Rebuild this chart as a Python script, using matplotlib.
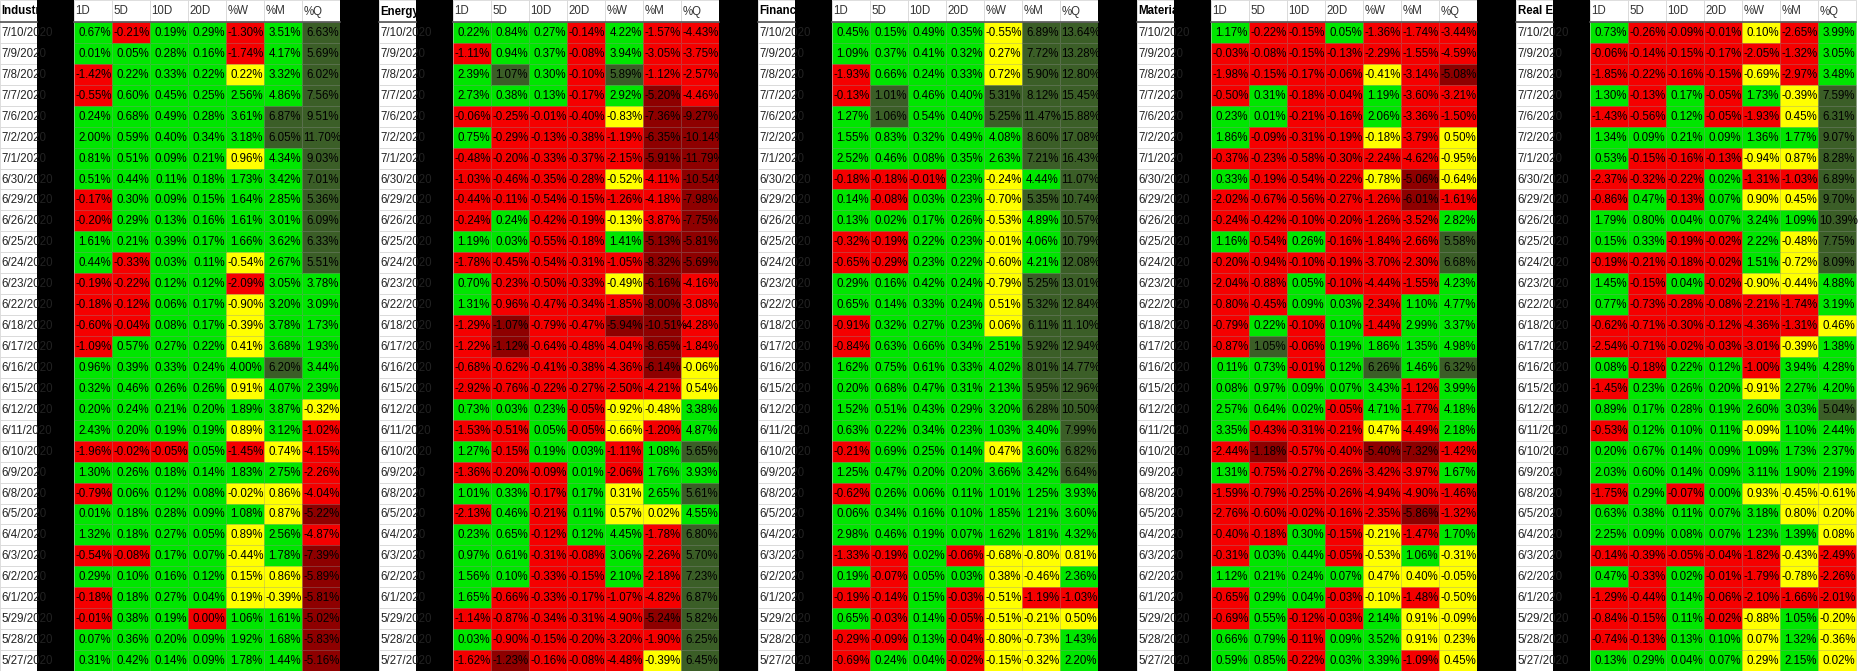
import matplotlib
matplotlib.use("Agg")
import matplotlib.pyplot as plt
from matplotlib.patches import Rectangle

dates = ["7/10/2020","7/9/2020","7/8/2020","7/7/2020","7/6/2020","7/2/2020","7/1/2020","6/30/2020",
         "6/29/2020","6/26/2020","6/25/2020","6/24/2020","6/23/2020","6/22/2020","6/18/2020","6/17/2020",
         "6/16/2020","6/15/2020","6/12/2020","6/11/2020","6/10/2020","6/9/2020","6/8/2020","6/5/2020",
         "6/4/2020","6/3/2020","6/2/2020","6/1/2020","5/29/2020","5/28/2020","5/27/2020"]
columns = ["1D", "5D", "10D", "20D", "%W", "%M", "%Q"]
sectors = ["Industrials", "Energy", "Financials", "Materials", "Real Estate"]

ind_1d = [0.67,0.01,-1.42,-0.55,0.24,2.00,0.81,0.51,-0.17,-0.20,1.61,0.44,-0.19,-0.18,-0.60,-1.09,0.96,0.32,0.20,2.43,-1.96,1.30,-0.79,0.01,1.32,-0.54,0.29,-0.18,-0.01,0.07,0.31]
ind_5d = [-0.21,0.05,0.22,0.60,0.68,0.59,0.51,0.44,0.30,0.29,0.21,-0.33,-0.22,-0.12,-0.04,0.57,0.39,0.46,0.24,0.20,-0.02,0.26,0.06,0.18,0.18,-0.08,0.10,0.18,0.38,0.36,0.42]
ind_10d = [0.19,0.28,0.33,0.45,0.49,0.40,0.09,0.11,0.09,0.13,0.39,0.03,0.12,0.06,0.08,0.27,0.33,0.26,0.21,0.19,-0.05,0.18,0.12,0.28,0.27,0.17,0.16,0.27,0.19,0.20,0.14]
ind_20d = [0.29,0.16,0.22,0.25,0.28,0.34,0.21,0.18,0.15,0.16,0.17,0.11,0.12,0.17,0.17,0.22,0.24,0.26,0.20,0.19,0.05,0.14,0.08,0.09,0.05,0.07,0.12,0.04,-0.001,0.09,0.09]
ind_w = [-1.30,-1.74,0.22,2.56,3.61,3.18,0.96,1.73,1.64,1.61,1.66,-0.54,-2.09,-0.90,-0.39,0.41,4.00,0.91,1.89,0.89,-1.45,1.83,-0.02,1.08,0.89,-0.44,0.15,0.19,1.06,1.92,1.78]
ind_m = [3.51,4.17,3.32,4.86,6.87,6.05,4.34,3.42,2.85,3.01,3.62,2.67,3.05,3.20,3.78,3.68,6.20,4.07,3.87,3.12,0.74,2.75,0.86,0.87,2.56,1.78,0.86,-0.39,1.61,1.68,1.44]
ind_q = [6.63,5.69,6.02,7.56,9.51,11.70,9.03,7.01,5.36,6.09,6.33,5.51,3.78,3.09,1.73,1.93,3.44,2.39,-0.32,-1.02,-4.15,-2.26,-4.04,-5.22,-4.87,-7.39,-5.89,-5.81,-5.02,-5.83,-5.16]

ene_1d = [0.22,-1.11,2.39,2.73,-0.06,0.75,-0.48,-1.03,-0.44,-0.24,1.19,-1.78,0.70,1.31,-1.29,-1.22,-0.68,-2.92,0.73,-1.53,1.27,-1.36,1.01,-2.13,0.23,0.97,1.56,1.65,-1.14,0.03,-1.62]
ene_5d = [0.84,0.94,1.07,0.38,-0.25,-0.29,-0.20,-0.46,-0.11,0.24,0.03,-0.45,-0.23,-0.96,-1.07,-1.12,-0.62,-0.76,0.03,-0.51,-0.15,-0.20,0.33,0.46,0.65,0.61,0.10,-0.66,-0.87,-0.90,-1.23]
ene_10d = [0.27,0.37,0.30,0.13,-0.01,-0.13,-0.33,-0.35,-0.54,-0.42,-0.55,-0.54,-0.50,-0.47,-0.79,-0.64,-0.41,-0.22,0.23,0.05,0.19,-0.09,-0.17,-0.21,-0.12,-0.31,-0.33,-0.33,-0.34,-0.15,-0.16]
ene_20d = [-0.14,-0.08,-0.10,-0.17,-0.40,-0.38,-0.37,-0.28,-0.15,-0.19,-0.18,-0.31,-0.33,-0.34,-0.47,-0.48,-0.38,-0.27,-0.05,-0.05,0.03,0.01,0.17,0.11,0.12,-0.08,-0.15,-0.17,-0.31,-0.20,-0.08]
ene_w = [4.22,3.94,5.89,2.92,-0.83,-1.19,-2.15,-0.52,-1.26,-0.13,1.41,-1.05,-0.49,-1.85,-5.94,-4.04,-4.36,-2.50,-0.92,-0.66,-1.11,-2.06,0.31,0.57,4.45,3.06,2.10,-1.07,-4.90,-3.20,-4.48]
ene_m = [-1.57,-3.05,-1.12,-5.20,-7.36,-6.35,-5.91,-4.11,-4.18,-3.87,-5.13,-8.32,-6.16,-8.00,-10.51,-8.65,-6.14,-4.21,-0.48,-1.20,1.08,1.76,2.65,0.02,-1.78,-2.26,-2.18,-4.82,-5.24,-1.90,-0.39]
ene_q = [-4.43,-3.75,-2.57,-4.46,-9.27,-10.14,-11.79,-10.54,-7.98,-7.75,-5.81,-5.69,-4.16,-3.08,-4.28,-1.84,-0.06,0.54,3.38,4.87,5.65,3.93,5.61,4.55,6.80,5.70,7.23,6.87,5.82,6.25,6.45]

fin_1d = [0.45,1.09,-1.93,-0.13,1.27,1.55,2.52,-0.18,0.14,0.13,-0.32,-0.65,0.29,0.65,-0.91,-0.84,1.62,0.20,1.52,0.63,-0.21,1.25,-0.62,0.06,2.98,-1.33,0.19,-0.19,0.65,-0.29,-0.69]
fin_5d = [0.15,0.37,0.66,1.01,1.06,0.83,0.46,-0.18,-0.08,0.02,-0.19,-0.29,0.16,0.14,0.32,0.63,0.75,0.68,0.51,0.22,0.69,0.47,0.26,0.34,0.46,-0.19,-0.07,-0.14,-0.03,-0.09,0.24]
fin_10d = [0.49,0.41,0.24,0.46,0.54,0.32,0.08,-0.01,0.03,0.17,0.22,0.23,0.42,0.33,0.27,0.66,0.61,0.47,0.43,0.34,0.25,0.20,0.06,0.16,0.19,0.02,0.05,0.15,0.14,0.13,0.04]
fin_20d = [0.35,0.32,0.33,0.40,0.40,0.49,0.35,0.23,0.23,0.26,0.23,0.22,0.24,0.24,0.23,0.34,0.33,0.31,0.29,0.23,0.14,0.20,0.11,0.10,0.07,-0.06,0.03,-0.03,-0.05,-0.04,-0.02]
fin_w = [-0.55,0.27,0.72,5.31,5.25,4.08,2.63,-0.24,-0.70,-0.53,-0.01,-0.60,-0.79,0.51,0.06,2.51,4.02,2.13,3.20,1.03,0.47,3.66,1.01,1.85,1.62,-0.68,0.38,-0.51,-0.51,-0.80,-0.15]
fin_m = [6.89,7.72,5.90,8.12,11.47,8.60,7.21,4.44,5.35,4.89,4.06,4.21,5.25,5.32,6.11,5.92,8.01,5.95,6.28,3.40,3.60,3.42,1.25,1.21,1.81,-0.80,-0.46,-1.19,-0.21,-0.73,-0.32]
fin_q = [13.64,13.28,12.80,15.45,15.88,17.08,16.43,11.07,10.74,10.57,10.79,12.08,13.01,12.84,11.10,12.94,14.77,12.96,10.50,7.99,6.82,6.64,3.93,3.60,4.32,0.81,2.36,-1.03,0.50,1.43,2.20]

mat_1d = [1.17,-0.03,-1.98,-0.50,0.23,1.86,-0.37,0.33,-2.02,-0.24,1.16,-0.20,-2.04,-0.80,-0.79,-0.87,0.11,0.08,2.57,3.35,-2.44,1.31,-1.59,-2.76,-0.40,-0.31,1.12,-0.65,-0.69,0.66,0.59]
mat_5d = [-0.22,-0.08,-0.15,0.31,0.01,-0.09,-0.23,-0.19,-0.67,-0.42,-0.54,-0.94,-0.88,-0.45,0.22,1.05,0.73,0.97,0.64,-0.43,-1.18,-0.75,-0.79,-0.60,-0.18,0.03,0.21,0.29,0.55,0.79,0.85]
mat_10d = [-0.15,-0.15,-0.17,-0.18,-0.21,-0.31,-0.58,-0.54,-0.56,-0.10,0.26,-0.10,0.05,0.09,-0.10,-0.06,-0.01,0.09,0.02,-0.31,-0.57,-0.27,-0.25,-0.02,0.30,0.44,0.24,0.04,-0.12,-0.11,-0.22]
mat_20d = [0.05,-0.13,-0.06,-0.04,-0.16,-0.19,-0.30,-0.22,-0.27,-0.20,-0.16,-0.19,-0.10,0.03,0.10,0.19,0.12,0.07,-0.05,-0.21,-0.40,-0.26,-0.26,-0.16,-0.15,-0.05,0.07,-0.03,-0.03,0.09,0.03]
mat_w = [-1.36,-2.29,-0.41,1.19,2.06,-0.18,-2.24,-0.78,-1.26,-1.26,-1.84,-3.70,-4.44,-2.34,-1.44,1.86,6.26,3.43,4.71,0.47,-5.40,-3.42,-4.94,-2.35,-0.21,-0.53,0.47,-0.10,2.14,3.52,3.39]
mat_m = [-1.74,-1.55,-3.14,-3.60,-3.36,-3.79,-4.62,-5.06,-6.01,-3.52,-2.66,-2.30,-1.55,1.10,2.99,1.35,1.46,-1.12,-1.77,-4.49,-7.32,-3.97,-4.90,-5.86,-1.47,1.06,0.40,-1.48,0.91,0.91,-1.09]
mat_q = [-3.44,-4.59,-5.08,-3.21,-1.50,0.50,-0.95,-0.64,-1.61,2.82,5.58,6.68,4.23,4.77,3.37,4.98,6.32,3.99,4.18,2.18,-1.42,1.67,-1.46,-1.32,1.70,-0.31,-0.05,-0.50,-0.09,0.23,0.45]

re_1d = [0.73,-0.06,-1.85,1.30,-1.43,1.34,0.53,-2.37,-0.86,1.79,0.15,-0.19,1.45,0.77,-0.62,-2.54,0.08,-1.45,0.89,-0.53,0.20,2.03,-1.75,0.63,2.25,-0.14,0.47,-1.29,-0.84,-0.74,0.13]
re_5d = [-0.26,-0.14,-0.22,-0.13,-0.56,0.09,-0.15,-0.32,0.47,0.80,0.33,-0.21,-0.15,-0.73,-0.71,-0.71,-0.18,0.23,0.17,0.12,0.67,0.60,0.29,0.38,0.09,-0.39,-0.33,-0.44,-0.15,-0.13,0.29]
re_10d = [-0.09,-0.15,-0.16,0.17,0.12,0.21,-0.16,-0.22,-0.13,0.04,-0.19,-0.18,0.04,-0.28,-0.30,-0.02,0.22,0.26,0.28,0.10,0.14,0.14,-0.07,0.11,0.08,-0.05,0.02,0.14,0.11,0.13,0.04]
re_20d = [-0.01,-0.17,-0.15,-0.05,-0.05,0.09,-0.13,0.02,0.07,0.07,-0.02,-0.02,-0.02,-0.08,-0.12,-0.03,0.12,0.20,0.19,0.11,0.09,0.09,0.00,0.07,0.07,-0.04,-0.01,-0.06,-0.02,0.10,0.07]
re_w = [0.10,-2.05,-0.69,1.73,-1.93,1.36,-0.94,-1.31,0.90,3.24,2.22,1.51,-0.90,-2.21,-4.36,-3.01,-1.00,-0.91,2.60,-0.09,1.09,3.11,0.93,3.18,1.23,-1.82,-1.79,-2.10,-0.88,0.07,0.29]
re_m = [-2.65,-1.32,-2.97,-0.39,0.45,1.77,0.87,-1.03,0.45,1.09,-0.48,-0.72,-0.44,-1.74,-1.31,-0.39,3.94,2.27,3.03,1.10,1.73,1.90,-0.45,0.80,1.39,-0.43,-0.78,-1.66,1.05,1.32,2.15]
re_q = [3.99,3.05,3.48,7.59,6.31,9.07,8.28,6.89,9.70,10.39,7.75,8.09,4.88,3.19,0.46,1.38,4.28,4.20,5.04,2.44,2.37,2.19,-0.61,0.20,0.08,-2.49,-2.26,-2.01,-0.20,-0.36,0.02]

panels = [
    [ind_1d, ind_5d, ind_10d, ind_20d, ind_w, ind_m, ind_q],
    [ene_1d, ene_5d, ene_10d, ene_20d, ene_w, ene_m, ene_q],
    [fin_1d, fin_5d, fin_10d, fin_20d, fin_w, fin_m, fin_q],
    [mat_1d, mat_5d, mat_10d, mat_20d, mat_w, mat_m, mat_q],
    [re_1d, re_5d, re_10d, re_20d, re_w, re_m, re_q],
]

GREEN, RED, DGREEN, DRED, YELLOW = "#00e600", "#f50000", "#3b5e27", "#8e0000", "#ffff00"

def cell_color(ci, v):
    if ci == 0:
        return GREEN if v >= 0 else RED
    if ci <= 3:
        if v > 1: return DGREEN
        if v < -1: return DRED
        return GREEN if v >= 0 else RED
    if v > 5: return DGREEN
    if v < -5: return DRED
    if abs(v) < 1: return YELLOW
    return GREEN if v > 0 else RED

W, H = 1861, 671
fig = plt.figure(figsize=(W / 100, H / 100), dpi=100)
ax = fig.add_axes([0, 0, 1, 1])
ax.set_xlim(0, W)
ax.set_ylim(H, 0)
ax.axis("off")

period = 379.0
date_w, black_w = 37.0, 37.0
col_w = 38.0
head_h = 22.0
row_h = (H - head_h) / len(dates)
FONT = "Liberation Sans"
FS = 8.3

def put_text(x0, y0, w, h, s, color="black", bold=False, right=True):
    rect = Rectangle((x0, y0), w, h, transform=ax.transData, fill=False, lw=0)
    ax.add_patch(rect)
    fits = len(s) <= 5
    if right and fits:
        t = ax.text(x0 + w - 1.0, y0 + h / 2 + 0.5, s, ha="right", va="center", fontsize=FS,
                    family=FONT, color=color, fontweight="bold" if bold else "normal")
    else:
        t = ax.text(x0 + 1.5, y0 + h / 2 + 0.5, s, ha="left", va="center", fontsize=FS,
                    family=FONT, color=color, fontweight="bold" if bold else "normal")
    t.set_clip_path(rect)

for p, (name, data) in enumerate(zip(sectors, panels)):
    px = p * period
    ax.add_patch(Rectangle((px, 0), date_w, head_h, facecolor="white", edgecolor="#d8d8d8", lw=0.6))
    ax.plot([px, px + date_w], [head_h, head_h], color="#555555", lw=1.2)
    put_text(px, 0, date_w, head_h, name, bold=True, right=False)
    for r, d in enumerate(dates):
        y = head_h + r * row_h
        ax.add_patch(Rectangle((px, y), date_w, row_h, facecolor="white", edgecolor="#d8d8d8", lw=0.6))
        put_text(px, y, date_w, row_h, d, color="#222222", right=False)
    ax.add_patch(Rectangle((px + date_w, 0), black_w, H, facecolor="black", edgecolor="none"))
    x0 = px + date_w + black_w
    for ci, col in enumerate(columns):
        cx = x0 + ci * col_w
        ax.add_patch(Rectangle((cx, 0), col_w, head_h, facecolor="white", edgecolor="#d8d8d8", lw=0.6))
        put_text(cx, 0, col_w, head_h, col, color="#333333", right=False)
        for r, v in enumerate(data[ci]):
            y = head_h + r * row_h
            ax.add_patch(Rectangle((cx, y), col_w, row_h, facecolor=cell_color(ci, v),
                                   edgecolor=(0, 0, 0, 0.12), lw=0.6))
            s = f"{abs(v):.2f}%" if round(v, 2) == 0 else f"{v:.2f}%"
            put_text(cx, y, col_w, row_h, s)
    ax.plot([x0, x0 + 7 * col_w], [head_h, head_h], color="#555555", lw=1.2)
    if p < len(sectors) - 1:
        ax.add_patch(Rectangle((x0 + 7 * col_w, 0), period - (date_w + black_w + 7 * col_w), H,
                               facecolor="black", edgecolor="none"))

fig.savefig("out.png", dpi=100)
